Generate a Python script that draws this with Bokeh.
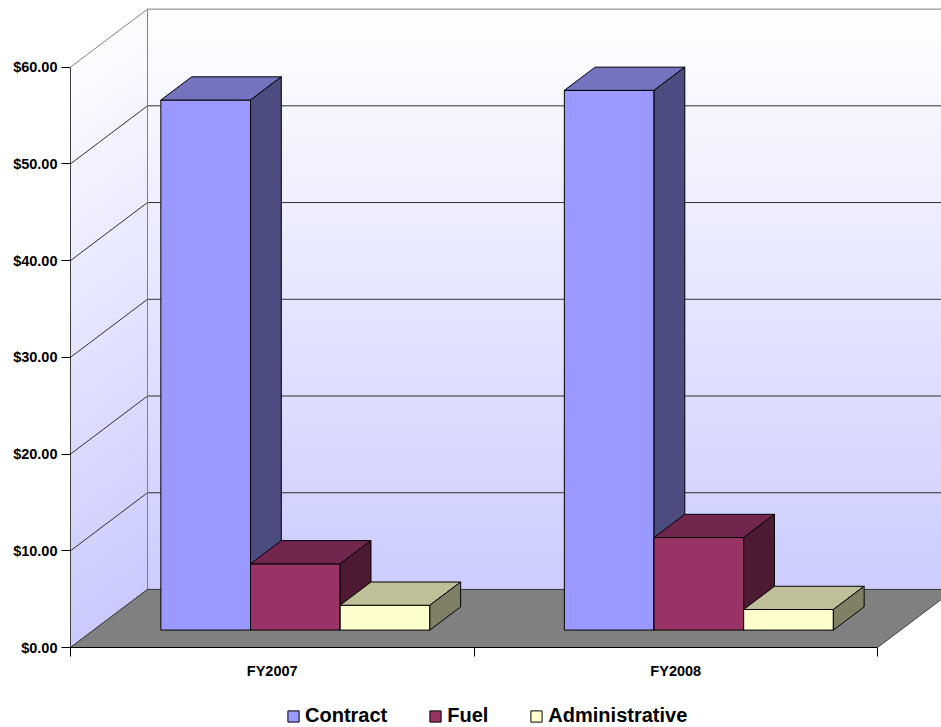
import numpy as np
from bokeh.plotting import figure
from bokeh.layouts import column
from bokeh.models import (LinearAxis, FixedTicker, NumeralTickFormatter, Legend,
                          LegendItem, Range1d)
from bokeh.embed import file_html
from bokeh.resources import INLINE

# ---- data -------------------------------------------------------------
categories = ["FY2007", "FY2008"]
series = ["Contract", "Fuel", "Administrative"]
contract = [54.8, 55.8]
fuel = [6.85, 9.57]
administrative = [2.57, 2.13]
y_ticks = [0, 10, 20, 30, 40, 50, 60]

# ---- styling ----------------------------------------------------------
front_colors = ["#9999FF", "#993366", "#FFFFCC"]
top_colors = ["#7373BF", "#73264D", "#BFBF99"]
side_colors = ["#4C4C80", "#4D1A33", "#808066"]
FONT = "Liberation Sans"

# oblique 3-D projection: depth 0 = front plane, depth 1 = back wall
DEPTH_X = 0.1908     # horizontal shift of the full depth (category units)
DEPTH_Y = 6.0        # vertical shift of the full depth (value units)
GAP = 1.5            # gap width, as a multiple of the bar width
BAR_D0, BAR_D1 = 0.3, 0.7
Y_MAX = 60.0

n_cat = len(categories)
bar_w = 1.0 / (len(series) + GAP)
side_gap = GAP * bar_w / 2.0

X_END = 2.1586
Y_END = 66.89


def proj(x, v, d):
    return x + d * DEPTH_X, v + d * DEPTH_Y


def quad(pts):
    xs, ys = zip(*[proj(*pt) for pt in pts])
    return list(xs), list(ys)


def mix(c0, c1, t):
    a = np.array([int(c0[i:i + 2], 16) for i in (1, 3, 5)], float)
    b = np.array([int(c1[i:i + 2], 16) for i in (1, 3, 5)], float)
    c = np.clip(a + (b - a) * t, 0, 255).round().astype(int)
    return "#%02x%02x%02x" % tuple(c)


GRAD_LOW, GRAD_HIGH = "#CCCCFF", "#FFFFFF"


def wall_color(y):
    return mix(GRAD_LOW, GRAD_HIGH, (y - DEPTH_Y) / Y_MAX)


p = figure(width=941, height=690, x_range=Range1d(0, X_END), y_range=Range1d(0, Y_END),
           x_axis_type=None, y_axis_type=None, toolbar_location=None,
           output_backend="svg", min_border_left=70, min_border_right=0,
           min_border_top=0, min_border_bottom=43, outline_line_color=None,
           background_fill_color="white", border_fill_color="white")
p.xgrid.visible = False
p.ygrid.visible = False

# ---- walls with a vertical gradient -----------------------------------
step = 0.5
levels = np.arange(0, Y_MAX, step)
bx, by, bc = [], [], []
for v in levels:
    x0, y0 = proj(0, v, 1)
    bx.append([x0, X_END + 1, X_END + 1, x0])
    by.append([y0, y0, y0 + step + 0.08, y0 + step + 0.08])
    bc.append(wall_color(y0 + step / 2))
for v in levels:
    xs, ys = quad([(0, v, 0), (0, v, 1), (0, v + step + 0.08, 1), (0, v + step + 0.08, 0)])
    bx.append(xs)
    by.append(ys)
    bc.append(wall_color(v + DEPTH_Y / 2 + step / 2))
p.patches(bx, by, fill_color=bc, line_color=None)

# gridlines on the back wall and the side wall
gx, gy, gc = [], [], []
for t in y_ticks:
    col = "#808080" if t == Y_MAX else "#303030"
    x0, y0 = proj(0, t, 1)
    gx.append([x0, X_END + 1])
    gy.append([y0, y0])
    gc.append(col)
    xs, ys = quad([(0, t, 0), (0, t, 1)])
    gx.append(xs)
    gy.append(ys)
    gc.append(col)
xs, ys = quad([(0, 0, 1), (0, Y_MAX, 1)])
gx.append(xs)
gy.append(ys)
gc.append("#808080")
p.multi_line(gx, gy, line_color=gc, line_width=1)

# floor
fx, fy = quad([(0, 0, 0), (n_cat, 0, 0), (n_cat, 0, 1), (0, 0, 1)])
p.patch(fx, fy, fill_color="#808080", line_color="#404040", line_width=1)

# ---- 3-D bars ---------------------------------------------------------
values = [contract, fuel, administrative]
for j, name in enumerate(series):
    xs_all, ys_all, cols = [], [], []
    for i in range(n_cat):
        v = values[j][i]
        x0 = i + side_gap + j * bar_w
        x1 = x0 + bar_w
        faces = [
            ([(x0, 0, BAR_D0), (x1, 0, BAR_D0), (x1, v, BAR_D0), (x0, v, BAR_D0)], front_colors[j]),
            ([(x0, v, BAR_D0), (x1, v, BAR_D0), (x1, v, BAR_D1), (x0, v, BAR_D1)], top_colors[j]),
            ([(x1, 0, BAR_D0), (x1, 0, BAR_D1), (x1, v, BAR_D1), (x1, v, BAR_D0)], side_colors[j]),
        ]
        for pts, col in faces:
            xs, ys = quad(pts)
            xs_all.append(xs)
            ys_all.append(ys)
            cols.append(col)
    p.patches(xs_all, ys_all, fill_color=cols, line_color="black", line_width=1)

# ---- axes -------------------------------------------------------------
yaxis = LinearAxis(ticker=FixedTicker(ticks=y_ticks),
                   formatter=NumeralTickFormatter(format="$0.00"), bounds=(0, Y_MAX))
yaxis.major_tick_out = 9
yaxis.major_tick_in = 0
yaxis.minor_tick_out = 0
yaxis.minor_tick_in = 0
yaxis.axis_line_color = "#404040"
yaxis.major_tick_line_color = "black"
yaxis.major_label_text_font = FONT
yaxis.major_label_text_font_style = "bold"
yaxis.major_label_text_font_size = "14.5px"
yaxis.major_label_text_color = "black"
yaxis.major_label_standoff = 4
p.add_layout(yaxis, "left")

xaxis = LinearAxis(ticker=FixedTicker(ticks=[i + 0.5 for i in range(n_cat)],
                                      minor_ticks=list(range(n_cat + 1))),
                   bounds=(0, n_cat))
xaxis.major_label_overrides = {i + 0.5: c for i, c in enumerate(categories)}
xaxis.major_tick_out = 0
xaxis.major_tick_in = 0
xaxis.minor_tick_out = 9
xaxis.minor_tick_in = 0
xaxis.axis_line_color = "black"
xaxis.minor_tick_line_color = "black"
xaxis.major_label_text_font = FONT
xaxis.major_label_text_font_style = "bold"
xaxis.major_label_text_font_size = "14.5px"
xaxis.major_label_text_color = "black"
xaxis.major_label_standoff = 6
p.add_layout(xaxis, "below")

# ---- legend strip -----------------------------------------------------
lg = figure(width=941, height=37, x_range=Range1d(0, 1), y_range=Range1d(0, 1),
            x_axis_type=None, y_axis_type=None, toolbar_location=None,
            output_backend="svg", min_border=0, outline_line_color=None,
            background_fill_color="white", border_fill_color="white")
lg.xgrid.visible = False
lg.ygrid.visible = False
swatches = [lg.rect(x=[-5], y=[-5], width=1, height=1, fill_color=c, line_color="black")
            for c in front_colors]
legend = Legend(items=[LegendItem(label=s, renderers=[r]) for s, r in zip(series, swatches)],
                orientation="horizontal", location=(216, 0), border_line_color=None,
                background_fill_alpha=0, padding=0, margin=0, spacing=41,
                glyph_width=14, glyph_height=14, label_standoff=5, label_height=14,
                label_text_font=FONT, label_text_font_style="bold",
                label_text_font_size="20px", label_text_color="black")
lg.add_layout(legend, "center")

layout = column(p, lg, spacing=0)
open("out.html", "w").write(file_html(layout, INLINE))
